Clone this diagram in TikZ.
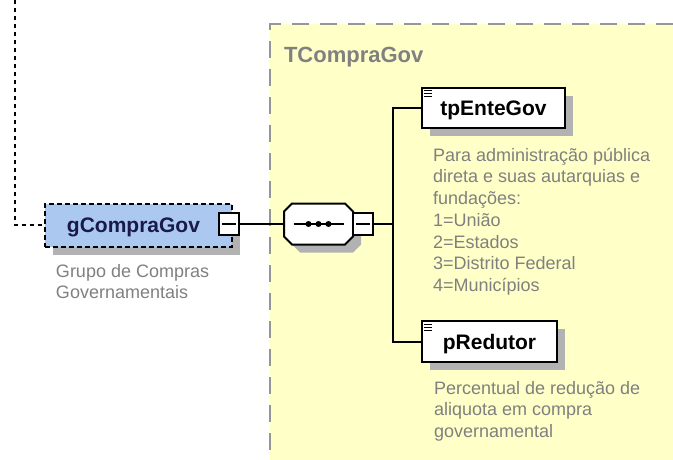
\documentclass[tikz,border=0pt]{standalone}
\usepackage{fontspec}
\setmainfont{Liberation Sans}
\usetikzlibrary{shadows,positioning}
\definecolor{boxblue}{RGB}{170,200,240}
\definecolor{navytext}{RGB}{25,25,75}
\definecolor{compyellow}{RGB}{255,255,200}
\definecolor{descgray}{RGB}{128,128,128}
\definecolor{shadowgray}{RGB}{178,178,178}
\definecolor{framegray}{RGB}{150,150,150}

\begin{document}
\begin{tikzpicture}[x=1pt,y=-1pt,line width=2pt,
    shade box/.style={drop shadow={shadow xshift=8pt,shadow yshift=-8pt,fill=shadowgray,opacity=1}},
    elem node/.style={draw,fill=white,shade box,inner sep=0pt,text height=15pt,text depth=0pt,font=\fontsize{21}{24}\selectfont\bfseries},
    minus node/.style={draw,fill=white,inner sep=0pt,minimum width=20pt,minimum height=22pt},
    desc node/.style={anchor=north west,inner sep=0pt,align=left,text=descgray,font=\fontsize{18}{21.7}\selectfont}]

            \useasboundingbox (0,0) rectangle (673,460);

            % complex type area
            \fill[compyellow] (270,24) rectangle (673,460);
            \draw[framegray,dash pattern=on 17pt off 11pt] (673,24) -- (270,24) -- (270,460);
            \node[anchor=base west,inner sep=0pt,text=descgray,font=\fontsize{22}{26}\selectfont\bfseries] (0) at (283,63) {TCompraGov};

            % group
            \node[draw,dash pattern=on 5pt off 3pt,fill=boxblue,shade box,minimum width=187pt,minimum height=43pt] (1) at (138.5,225) {};
            \node[inner sep=0pt,text height=15pt,text depth=0pt,text=navytext,font=\fontsize{21}{24}\selectfont\bfseries] (1t) at ([xshift=-5pt]1.center) {gCompraGov};
            \node[minus node] (2) at (229,224) {};
            \draw[line width=1.5pt] ([xshift=4pt]2.west) -- ([xshift=-4pt]2.east);
            \node[desc node] (1d) at (55,263) {Grupo de Compras\\Governamentais};

            % sequence
            \fill[shadowgray] (300,211.5) -- (353,211.5) -- (361,219.5) -- (361,244.5) -- (353,252.5) -- (300,252.5) -- (292,244.5) -- (292,219.5) -- cycle;
            \draw[fill=white] (292,203.5) -- (345,203.5) -- (353,211.5) -- (353,236.5) -- (345,244.5) -- (292,244.5) -- (284,236.5) -- (284,211.5) -- cycle;
            \node[inner sep=0pt,minimum width=69pt,minimum height=41pt] (3) at (318.5,224) {};
            \draw[line width=1.5pt] ([xshift=-25pt]3.center) -- ([xshift=25pt]3.center);
            \foreach \d in {-10,0,10}
                \fill ([xshift=\d pt]3.center) circle (3pt);
            \node[minus node] (4) at (363,224) {};
            \draw[line width=1.5pt] ([xshift=4pt]4.west) -- ([xshift=-4pt]4.east);

            % elements
            \node[elem node,minimum width=143pt,minimum height=40pt] (5) at (493.5,108) {tpEnteGov};
            \node[elem node,minimum width=135pt,minimum height=41pt] (6) at (489.5,341.5) {pRedutor};
            \foreach \n in {5,6}
                \foreach \k in {4,7,10}
                    \draw[line width=1pt] ([xshift=3pt,yshift=-\k pt]\n.north west) -- ++(8,0);
            \node[desc node] (5d) at (432,147) {Para administração pública\\direta e suas autarquias e\\fundações:\\1=União\\2=Estados\\3=Distrito Federal\\4=Municípios};
            \node[desc node] (6d) at (433,380) {Percentual de redução de\\aliquota em compra\\governamental};

            % connectors
            \coordinate (top) at (15,0);
            \coordinate (t) at (393,224);
            \draw[dash pattern=on 4pt off 4pt] (top) |- (1.west);
            \draw (2.east) -- (3.west);
            \draw (4.east) -- (t);
            \draw (t) |- (5.west);
            \draw (t) |- (6.west);

\end{tikzpicture}
\end{document}
